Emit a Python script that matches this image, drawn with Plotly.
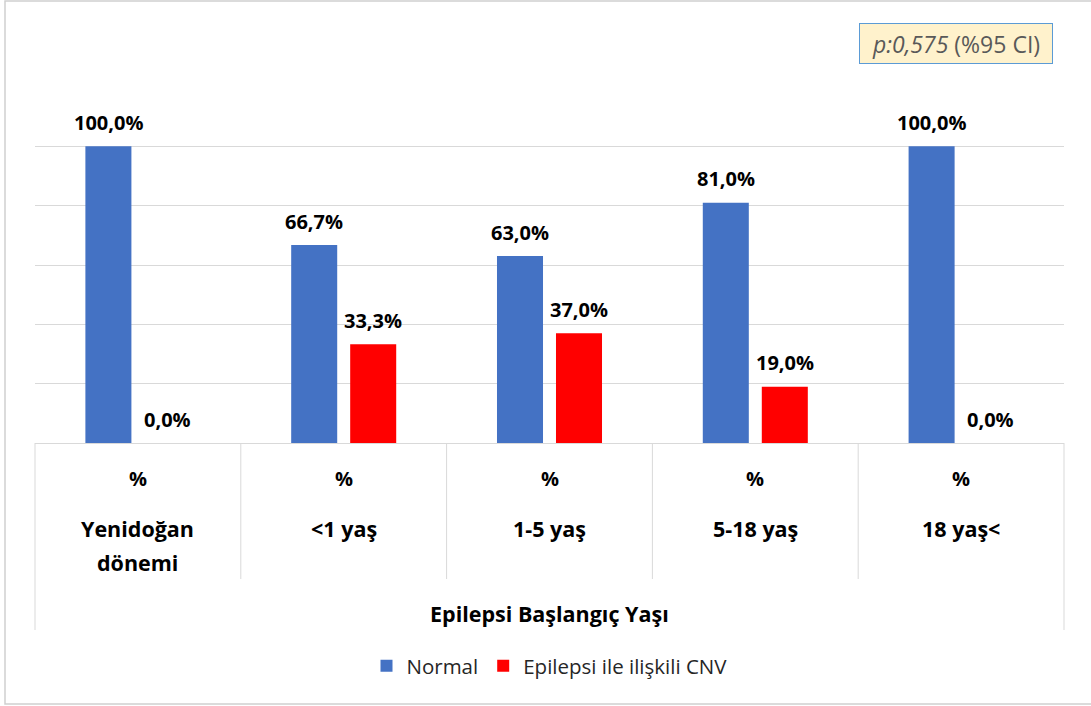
import plotly.graph_objects as go

# --- data ---
categories = ["Yenidoğan<br>dönemi", "<1 yaş", "1-5 yaş", "5-18 yaş", "18 yaş<"]
row_unit = ["%", "%", "%", "%", "%"]
normal_pct = [100.0, 66.7, 63.0, 81.0, 100.0]
cnv_pct = [0.0, 33.3, 37.0, 19.0, 0.0]
series_names = ["Normal", "Epilepsi ile ilişkili CNV"]
axis_title = "Epilepsi Başlangıç Yaşı"
note_text = "<i>p:0,575</i> (%95 CI)"

# --- layout geometry (pixels) ---
W, H = 1091, 706
L, R, T, B = 35, 1064, 87, 443
PW, PH = R - L, B - T

def px_x(x):
    return (x - L) / PW

def px_y(y):
    return (B - y) / PH

FONT = "'Open Sans', sans-serif"
BLUE = "#4472C4"
RED = "#FF0000"
GRID = "#D9D9D9"
VAL_FONT = dict(family=FONT, size=20, color="#000000", weight="bold")
CAT_FONT = dict(family=FONT, size=21.5, color="#000000", weight="bold")

def fmt(v):
    return f"{v:.1f}".replace(".", ",") + "%"

x_idx = list(range(len(categories)))

fig = go.Figure()
fig.add_trace(go.Bar(x=x_idx, y=normal_pct, name=series_names[0],
                     marker=dict(color=BLUE, line=dict(width=0))))
fig.add_trace(go.Bar(x=x_idx, y=cnv_pct, name=series_names[1],
                     marker=dict(color=RED, line=dict(width=0))))

annotations = []
shapes = []

# value labels above each bar
slot_px = 29.5
for vals, shift in ((normal_pct, -slot_px), (cnv_pct, slot_px)):
    for i, v in enumerate(vals):
        annotations.append(dict(
            x=i, y=v, xref="x", yref="y", text=fmt(v), showarrow=False,
            xshift=shift, yshift=24, xanchor="center", yanchor="middle",
            font=VAL_FONT))

# category table under the plot
n = len(categories)
for i, (cat, unit) in enumerate(zip(categories, row_unit)):
    annotations.append(dict(
        x=i, y=px_y(478), xref="x", yref="paper", text=unit, showarrow=False,
        xanchor="center", yanchor="middle", font=VAL_FONT))
    for j, line in enumerate(cat.split("<br>")):
        annotations.append(dict(
            x=i, y=px_y(528 + 34 * j), xref="x", yref="paper",
            text=line.replace("<", "&lt;"), showarrow=False,
            xanchor="center", yanchor="middle", font=CAT_FONT))

annotations.append(dict(
    x=0.5, y=px_y(613), xref="paper", yref="paper", text=axis_title,
    showarrow=False, xanchor="center", yanchor="middle", font=CAT_FONT))

# p-value note box
annotations.append(dict(
    x=px_x(859), y=px_y(23), xref="paper", yref="paper", text=note_text,
    showarrow=False, xanchor="left", yanchor="top",
    width=188, height=35, align="center", valign="middle",
    bgcolor="#FFF2CC", bordercolor="#5B9BD5", borderwidth=1, borderpad=2,
    font=dict(family=FONT, size=23, color="#595959")))

# table grid lines
line_style = dict(color=GRID, width=1)
for k in range(1, n):
    shapes.append(dict(type="line", xref="paper", yref="paper",
                       x0=k / n, x1=k / n, y0=0, y1=px_y(579), line=line_style))
for xe in (0, 1):
    shapes.append(dict(type="line", xref="paper", yref="paper",
                       x0=xe, x1=xe, y0=0, y1=px_y(630), line=line_style))

# outer frame
shapes.append(dict(type="rect", xref="paper", yref="paper",
                   x0=px_x(5), x1=px_x(1098), y0=px_y(704), y1=px_y(1),
                   line=dict(color="#D0D0D0", width=1.5), fillcolor="rgba(0,0,0,0)",
                   layer="below"))

fig.update_layout(
    width=W, height=H,
    margin=dict(l=L, r=W - R, t=T, b=H - B),
    paper_bgcolor="#FFFFFF", plot_bgcolor="#FFFFFF",
    barmode="group", bargap=0.4266, bargroupgap=0.22,
    showlegend=True,
    legend=dict(orientation="h", x=0.5, xanchor="center",
                y=px_y(666), yanchor="middle", itemwidth=30,
                font=dict(family=FONT, size=20.5, color="#262626"),
                itemclick=False, itemdoubleclick=False),
    xaxis=dict(range=[-0.5, n - 0.5], showticklabels=False, showgrid=False,
               zeroline=False, showline=False, ticks="", fixedrange=True),
    yaxis=dict(range=[0, 120], dtick=20, showticklabels=False, showgrid=True,
               gridcolor=GRID, gridwidth=1, zeroline=True, zerolinecolor=GRID,
               zerolinewidth=1, showline=False, ticks="", fixedrange=True),
    annotations=annotations,
    shapes=shapes,
)

fig.write_html("out.html")
